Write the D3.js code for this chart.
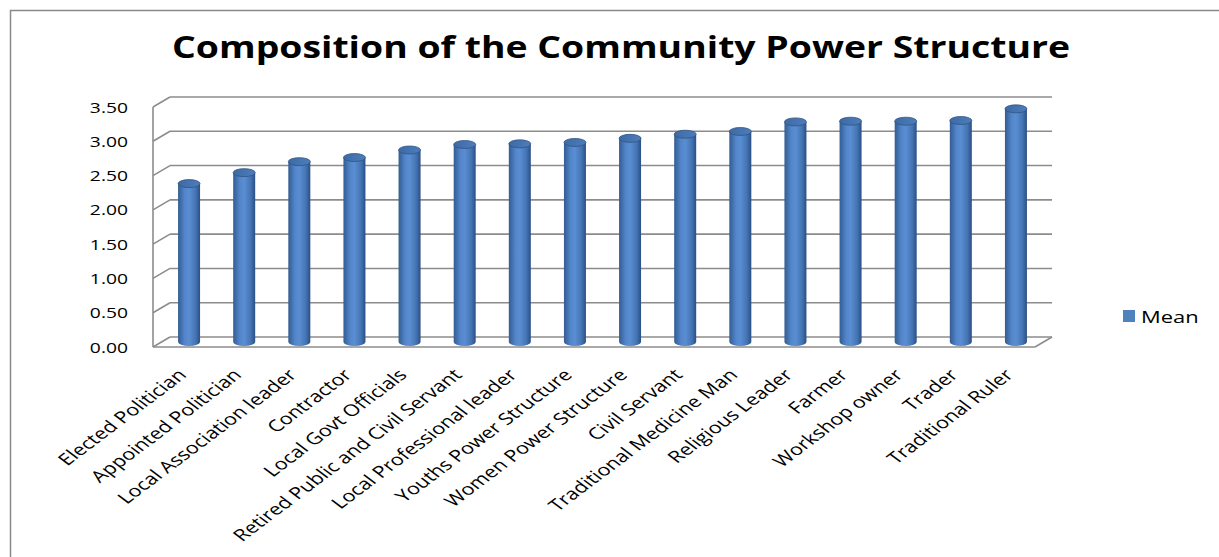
<!DOCTYPE html>
<html>
<head>
<meta charset="utf-8">
<script src="https://cdn.jsdelivr.net/npm/d3@7"></script>
<style>
  html, body { margin: 0; padding: 0; background: #fff; }
  svg { display: block; }
</style>
</head>
<body>
<svg id="chart" width="1219" height="557"></svg>
<script>
const categories = [
  "Elected Politician", "Appointed Politician", "Local Association leader", "Contractor",
  "Local Govt Officials", "Retired Public and Civil Servant", "Local Professional leader",
  "Youths Power Structure", "Women Power Structure", "Civil Servant",
  "Traditional Medicine Man", "Religious Leader", "Farmer", "Workshop owner",
  "Trader", "Traditional Ruler"
];
const meanValues = [2.31, 2.47, 2.63, 2.69, 2.80, 2.88, 2.89, 2.91, 2.97, 3.03, 3.07, 3.21, 3.22, 3.22, 3.23, 3.40];
const yTicks = [0, 0.5, 1.0, 1.5, 2.0, 2.5, 3.0, 3.5];
const seriesName = "Mean";
const titleText = "Composition of the Community Power Structure";

const svg = d3.select("#chart");
const SX = 1.33; // horizontal stretch of the original picture

// 3D geometry
const front = { left: 153, right: 1035, bottom: 347 };
const depth = { dx: 17, dy: -10 };

const x = d3.scaleBand().domain(categories).range([front.left, front.right]).paddingInner(0).paddingOuter(0);
const y = d3.scaleLinear().domain([0, 3.5]).range([front.bottom, 107]);

// outer frame
svg.append("rect").attr("x", 10.5).attr("y", 10.5).attr("width", 1300).attr("height", 700)
  .attr("fill", "none").attr("stroke", "#8a8a8a").attr("stroke-width", 1.5);

// title
svg.append("text")
  .attr("x", 621).attr("y", 58)
  .attr("text-anchor", "middle")
  .attr("font-family", "'Open Sans', sans-serif")
  .attr("font-weight", 700).attr("font-size", 31)
  .attr("textLength", 898).attr("lengthAdjust", "spacingAndGlyphs")
  .attr("fill", "#000")
  .text(titleText);

const gridColor = "#8c8c8c";
const grid = svg.append("g");

// back-wall gridlines
grid.selectAll("line.back").data(yTicks).join("line")
  .attr("class", "back")
  .attr("x1", front.left + depth.dx).attr("x2", front.right + depth.dx)
  .attr("y1", d => y(d) + depth.dy).attr("y2", d => y(d) + depth.dy)
  .attr("stroke", gridColor).attr("stroke-width", 1.6);

// side-wall diagonals
grid.selectAll("line.side").data(yTicks).join("line")
  .attr("class", "side")
  .attr("x1", front.left).attr("x2", front.left + depth.dx)
  .attr("y1", d => y(d)).attr("y2", d => y(d) + depth.dy)
  .attr("stroke", gridColor).attr("stroke-width", 1.6);

// front vertical edge of side wall
grid.append("line")
  .attr("x1", front.left).attr("x2", front.left)
  .attr("y1", y(3.5)).attr("y2", y(0))
  .attr("stroke", gridColor).attr("stroke-width", 1.6);

// floor front edge and right edge
grid.append("line")
  .attr("x1", front.left).attr("x2", front.right)
  .attr("y1", y(0)).attr("y2", y(0))
  .attr("stroke", gridColor).attr("stroke-width", 1.6);
grid.append("line")
  .attr("x1", front.right).attr("x2", front.right + depth.dx)
  .attr("y1", y(0)).attr("y2", y(0) + depth.dy)
  .attr("stroke", gridColor).attr("stroke-width", 1.6);

// y tick labels
svg.append("g").selectAll("text").data(yTicks).join("text")
  .attr("transform", d => `translate(128,${y(d) + 5.5}) scale(${SX},1)`)
  .attr("text-anchor", "end")
  .attr("font-family", "'Open Sans', sans-serif")
  .attr("font-size", 14.5)
  .attr("fill", "#000")
  .text(d => d.toFixed(2));

// gradients for cylinders
const defs = svg.append("defs");
const grad = defs.append("linearGradient").attr("id", "cyl").attr("x1", "0%").attr("x2", "100%");
grad.append("stop").attr("offset", "0%").attr("stop-color", "#335c92");
grad.append("stop").attr("offset", "30%").attr("stop-color", "#5285ca");
grad.append("stop").attr("offset", "50%").attr("stop-color", "#5a8ed2");
grad.append("stop").attr("offset", "80%").attr("stop-color", "#4474b3");
grad.append("stop").attr("offset", "100%").attr("stop-color", "#2b4f83");
const gradTop = defs.append("linearGradient").attr("id", "cylTop").attr("x1", "0%").attr("x2", "100%");
gradTop.append("stop").attr("offset", "0%").attr("stop-color", "#3e6aa4");
gradTop.append("stop").attr("offset", "100%").attr("stop-color", "#4d7dbb");

// cylinders
const barW = 22, ry = 4;
const cx = d => x(d) + x.bandwidth() / 2 + depth.dx / 2;
const baseY = y(0) + depth.dy / 2;
const barsData = categories.map((c, i) => ({ c, v: meanValues[i] }));
const bars = svg.append("g").selectAll("g").data(barsData).join("g");

bars.append("path")
  .attr("d", d => {
    const l = cx(d.c) - barW / 2, r = cx(d.c) + barW / 2;
    const top = y(d.v) + depth.dy / 2;
    return `M${l},${top} L${l},${baseY} A${barW / 2},${ry} 0 0 0 ${r},${baseY} L${r},${top} Z`;
  })
  .attr("fill", "url(#cyl)");

bars.append("ellipse")
  .attr("cx", d => cx(d.c))
  .attr("cy", d => y(d.v) + depth.dy / 2)
  .attr("rx", barW / 2).attr("ry", ry)
  .attr("fill", "url(#cylTop)")
  .attr("stroke", "#2f5586").attr("stroke-width", 0.8);

// x labels
svg.append("g").selectAll("text").data(categories).join("text")
  .attr("transform", d => `translate(${x(d) + x.bandwidth() / 2 + 7},${376}) scale(${SX},1) rotate(-45)`)
  .attr("text-anchor", "end")
  .attr("font-family", "'Open Sans', sans-serif")
  .attr("font-size", 16.3)
  .attr("fill", "#000")
  .text(d => d);

// legend
const legend = svg.append("g");
legend.append("rect").attr("x", 1123).attr("y", 310).attr("width", 12).attr("height", 12).attr("fill", "#4f81bd");
legend.append("text")
  .attr("transform", `translate(1141,322.5) scale(${SX},1)`)
  .attr("font-family", "'Open Sans', sans-serif")
  .attr("font-size", 16.5)
  .attr("fill", "#000")
  .text(seriesName);
</script>
</body>
</html>
